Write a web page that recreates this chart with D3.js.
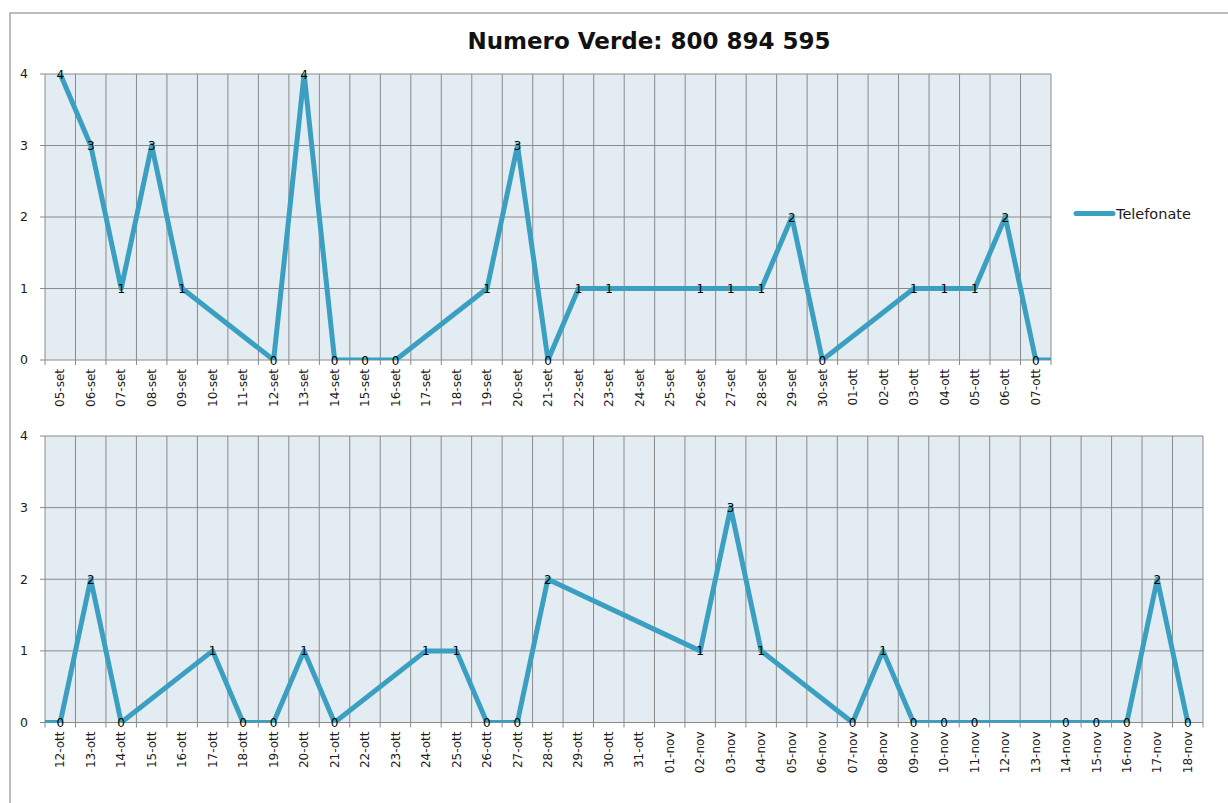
<!DOCTYPE html>
<html>
<head>
<meta charset="utf-8">
<script src="https://cdn.jsdelivr.net/npm/d3@7"></script>
<style>
  body { margin: 0; background: #fff; }
  svg text { font-family: "DejaVu Sans", Verdana, sans-serif; }
</style>
</head>
<body>
<svg id="chart" width="1228" height="803"></svg>
<script>
// top panel: 05-set .. 07-ott
var topDays = ["05-set","06-set","07-set","08-set","09-set","10-set","11-set","12-set","13-set","14-set",
  "15-set","16-set","17-set","18-set","19-set","20-set","21-set","22-set","23-set","24-set","25-set",
  "26-set","27-set","28-set","29-set","30-set","01-ott","02-ott","03-ott","04-ott","05-ott","06-ott","07-ott"];
var topCalls = [4,3,1,3,1,null,null,0,4,0,0,0,null,null,1,3,0,1,1,null,null,1,1,1,2,0,null,null,1,1,1,2,0];
var topAfter = 0;   // next value past the right edge (08-ott)

// bottom panel: 12-ott .. 18-nov
var bottomDays = ["12-ott","13-ott","14-ott","15-ott","16-ott","17-ott","18-ott","19-ott","20-ott","21-ott",
  "22-ott","23-ott","24-ott","25-ott","26-ott","27-ott","28-ott","29-ott","30-ott","31-ott","01-nov",
  "02-nov","03-nov","04-nov","05-nov","06-nov","07-nov","08-nov","09-nov","10-nov","11-nov","12-nov",
  "13-nov","14-nov","15-nov","16-nov","17-nov","18-nov"];
var bottomCalls = [0,2,0,null,null,1,0,0,1,0,null,null,1,1,0,0,2,null,null,null,null,1,3,1,null,null,
  0,1,0,0,0,null,null,0,0,0,2,0];
var bottomBefore = 0;  // value just before the left edge (11-ott)

var yTicks = [0, 1, 2, 3, 4];
var seriesName = "Telefonate";
var title = "Numero Verde: 800 894 595";

var lineColor = "#3a9fc1",
    gridColor = "#8a8a8a",
    plotBg = "#e3ecf2";

var svg = d3.select("#chart");

// outer chart border
svg.append("rect")
    .attr("x", 10).attr("y", 13)
    .attr("width", 1240).attr("height", 820)
    .attr("fill", "none")
    .attr("stroke", "#a6a6a6")
    .attr("stroke-width", 1.5);

svg.append("text")
    .attr("x", 649).attr("y", 49)
    .attr("text-anchor", "middle")
    .attr("font-size", "23px")
    .attr("font-weight", "bold")
    .attr("fill", "#111")
    .text(title);

function panel(id, days, calls, extra, extraIdx, box) {
    var n = days.length;
    var g = svg.append("g");

    var xScale = d3.scaleLinear().domain([0, n]).range([box.x0, box.x1]);
    var yScale = d3.scaleLinear().domain([0, 4]).range([box.y1, box.y0]);

    g.append("rect")
        .attr("x", box.x0).attr("y", box.y0)
        .attr("width", box.x1 - box.x0).attr("height", box.y1 - box.y0)
        .attr("fill", plotBg);

    // vertical grid at category boundaries, with small ticks below
    g.selectAll(".vg").data(d3.range(n + 1)).enter().append("line")
        .attr("x1", function (d) { return xScale(d); })
        .attr("x2", function (d) { return xScale(d); })
        .attr("y1", box.y0).attr("y2", box.y1 + 5)
        .attr("stroke", gridColor).attr("stroke-width", 1);

    g.selectAll(".hg").data(yTicks).enter().append("line")
        .attr("x1", box.x0 - 5).attr("x2", box.x1)
        .attr("y1", function (d) { return yScale(d); })
        .attr("y2", function (d) { return yScale(d); })
        .attr("stroke", gridColor).attr("stroke-width", 1);

    // y axis labels
    g.selectAll(".yl").data(yTicks).enter().append("text")
        .attr("x", box.x0 - 17)
        .attr("y", function (d) { return yScale(d); })
        .attr("dy", "0.35em")
        .attr("text-anchor", "end")
        .attr("font-size", "12.5px")
        .attr("fill", "#1a1a1a")
        .text(function (d) { return d; });

    // x labels, rotated
    g.selectAll(".xl").data(days).enter().append("text")
        .attr("transform", function (d, i) {
            return "translate(" + xScale(i + 0.5) + "," + (box.y1 + 9) + ") rotate(-90)";
        })
        .attr("dy", "0.35em")
        .attr("text-anchor", "end")
        .attr("font-size", "12px")
        .attr("fill", "#1a1a1a")
        .text(function (d) { return d; });

    var pts = [];
    calls.forEach(function (v, i) { if (v !== null) pts.push({ i: i, v: v }); });
    var linePts = pts.slice();
    if (extraIdx < 0) linePts.unshift({ i: extraIdx, v: extra });
    else linePts.push({ i: extraIdx, v: extra });

    svg.append("clipPath").attr("id", id)
        .append("rect")
        .attr("x", box.x0).attr("y", box.y0)
        .attr("width", box.x1 - box.x0).attr("height", box.y1 - box.y0);

    var lineFunction = d3.line()
        .x(function (d) { return xScale(d.i + 0.5); })
        .y(function (d) { return yScale(d.v); });

    g.append("path")
        .attr("d", lineFunction(linePts))
        .attr("clip-path", "url(#" + id + ")")
        .attr("fill", "none")
        .attr("stroke", lineColor)
        .attr("stroke-width", 5)
        .attr("stroke-linejoin", "round")
        .attr("stroke-linecap", "round");

    // data labels
    g.selectAll(".dl").data(pts).enter().append("text")
        .attr("x", function (d) { return xScale(d.i + 0.5); })
        .attr("y", function (d) { return yScale(d.v); })
        .attr("dy", "0.38em")
        .attr("text-anchor", "middle")
        .attr("font-size", "12px")
        .attr("fill", "#000")
        .text(function (d) { return d.v; });

    return g;
}

panel("clipTop", topDays, topCalls, topAfter, topDays.length,
    { x0: 45, x1: 1051, y0: 74, y1: 360 });
panel("clipBottom", bottomDays, bottomCalls, bottomBefore, -1,
    { x0: 45, x1: 1203, y0: 436, y1: 722.5 });

// legend
svg.append("line")
    .attr("x1", 1076).attr("x2", 1113)
    .attr("y1", 213.5).attr("y2", 213.5)
    .attr("stroke", lineColor)
    .attr("stroke-width", 5)
    .attr("stroke-linecap", "round");

svg.append("text")
    .attr("x", 1116).attr("y", 213.5)
    .attr("dy", "0.35em")
    .attr("font-size", "14.5px")
    .attr("fill", "#1a1a1a")
    .text(seriesName);
</script>
</body>
</html>
